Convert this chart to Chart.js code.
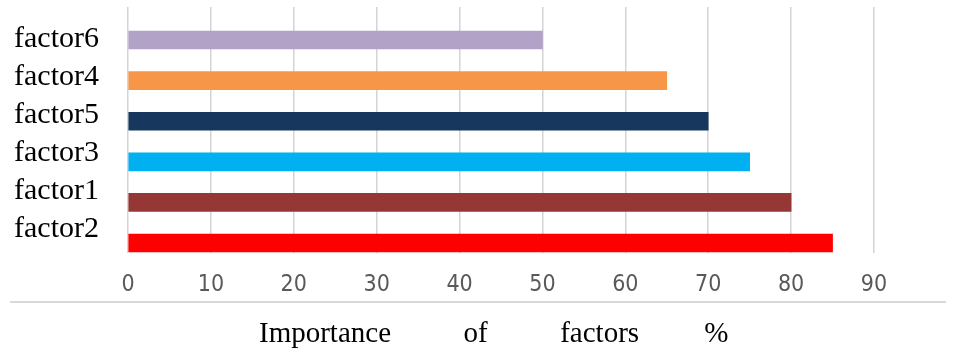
<!DOCTYPE html>
<html>
<head>
<meta charset="utf-8">
<script src="https://cdn.jsdelivr.net/npm/chart.js@4/dist/chart.umd.min.js"></script>
<style>
  html, body { margin: 0; padding: 0; background: #ffffff; }
  canvas { display: block; }
</style>
</head>
<body>
<canvas id="chart" width="962" height="352"></canvas>
<script>
// Categories listed top to bottom, with their importance values (%)
const categories = ['factor6', 'factor4', 'factor5', 'factor3', 'factor1', 'factor2'];
const importance = [50, 65, 70, 75, 80, 85];
const barColors = ['#b3a2c7', '#f79646', '#17375e', '#00b0f0', '#953735', '#ff0000'];
const xTicks = [0, 10, 20, 30, 40, 50, 60, 70, 80, 90];
const axisTitle = 'Importance          of          factors         %  ';

const serif = '"Liberation Serif", "Times New Roman", serif';
const narrowSans = '"Liberation Sans Narrow", "DejaVu Sans Condensed", sans-serif';

// Thin rule separating the tick labels from the axis title
const separatorRule = {
  id: 'separatorRule',
  afterDraw(chart) {
    const { ctx } = chart;
    const y = chart.height - 50;
    ctx.save();
    ctx.strokeStyle = '#d9d9d9';
    ctx.lineWidth = 2;
    ctx.beginPath();
    ctx.moveTo(10, y);
    ctx.lineTo(chart.width - 16, y);
    ctx.stroke();
    ctx.restore();
  }
};

new Chart(document.getElementById('chart'), {
  type: 'bar',
  data: {
    datasets: [{
      data: importance.map((v, i) => ({ x: v, y: i })),
      backgroundColor: barColors,
      borderWidth: 0,
      barThickness: 18,
      yAxisID: 'y'
    }]
  },
  options: {
    indexAxis: 'y',
    responsive: false,
    animation: false,
    devicePixelRatio: 1,
    layout: { padding: { top: 7, right: 88, bottom: 0, left: 0 } },
    plugins: { legend: { display: false }, tooltip: { enabled: false } },
    scales: {
      x: {
        type: 'linear',
        position: 'bottom',
        min: 0,
        max: 90,
        afterBuildTicks(scale) { scale.ticks = xTicks.map(v => ({ value: v })); },
        afterFit(scale) { scale.height = 99; },
        grid: { color: '#d4d4d4', lineWidth: 1.5, drawTicks: false },
        border: { display: false },
        ticks: {
          padding: 18,
          color: '#595959',
          font: { family: narrowSans, size: 23 }
        },
        title: {
          display: true,
          text: axisTitle,
          color: '#000000',
          font: { family: serif, size: 29 },
          padding: { top: 0, bottom: 0 }
        }
      },
      // bar positions
      y: {
        type: 'linear',
        position: 'left',
        display: false,
        offset: false,
        reverse: true,
        min: -0.813,
        max: 5.246
      },
      // category labels
      yLabels: {
        type: 'linear',
        position: 'left',
        offset: false,
        reverse: true,
        min: -0.842,
        max: 5.632,
        afterBuildTicks(scale) { scale.ticks = categories.map((_, i) => ({ value: i })); },
        afterFit(scale) {
          scale.width = 128;
          scale.paddingTop = 0;
          scale.paddingBottom = 0;
        },
        grid: { display: false, drawTicks: false },
        border: { display: false },
        ticks: {
          autoSkip: false,
          padding: 29,
          color: '#000000',
          font: { family: serif, size: 30 },
          callback: (v) => categories[v]
        }
      }
    }
  },
  plugins: [separatorRule]
});
</script>
</body>
</html>
